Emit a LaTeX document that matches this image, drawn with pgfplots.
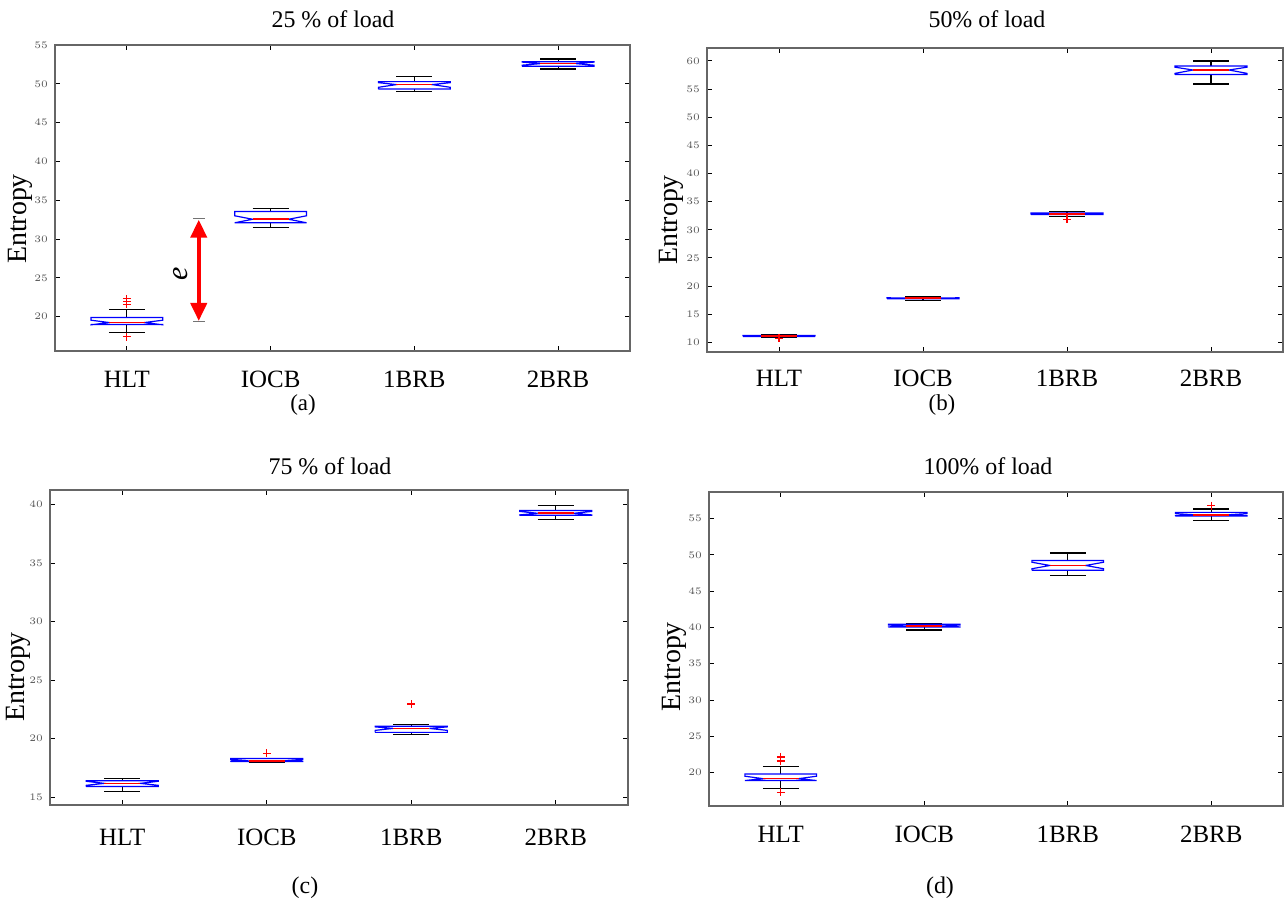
\documentclass[border=0pt]{standalone}
\usepackage{fontspec}
\setmainfont{Liberation Serif}
\newfontfamily\tickfont{Liberation Sans}
\usepackage{pgfplots}
\pgfplotsset{compat=1.18}
\usetikzlibrary{arrows.meta}

% notched MATLAB-style box: x, lower whisker, q1, notch low, median, notch high, q3, upper whisker
\newcommand{\nbox}[8]{%
  \pgfmathsetmacro\xl{#1-0.25}\pgfmathsetmacro\xr{#1+0.25}%
  \pgfmathsetmacro\xnl{#1-0.125}\pgfmathsetmacro\xnr{#1+0.125}%
  \edef\tmp{%
    \noexpand\addplot[whisk] coordinates {(#1,#7) (#1,#8)};
    \noexpand\addplot[whisk] coordinates {(#1,#3) (#1,#2)};
    \noexpand\addplot[whisk] coordinates {(\xnl,#8) (\xnr,#8)};
    \noexpand\addplot[whisk] coordinates {(\xnl,#2) (\xnr,#2)};
    \noexpand\addplot[boxln] coordinates {(\xl,#3) (\xl,#4) (\xnl,#5) (\xl,#6) (\xl,#7) (\xr,#7) (\xr,#6) (\xnr,#5) (\xr,#4) (\xr,#3) (\xl,#3)};
    \noexpand\addplot[medln] coordinates {(\xnl,#5) (\xnr,#5)};
  }\tmp}

\pgfplotsset{
  whisk/.style={black, line width=0.6bp, mark=none},
  boxln/.style={blue, line width=0.6bp, mark=none},
  medln/.style={red, line width=0.8bp, mark=none},
  outl/.style={only marks, mark=+, red, mark size=2bp, mark options={line width=0.6bp}},
  mat/.style={
    scale only axis, anchor=north west,
    xmin=0.5, xmax=4.5,
    xtick={1,2,3,4}, xticklabels={HLT,IOCB,1BRB,2BRB},
    tick align=inside, tick pos=both,
    major tick length=2.5bp,
    axis line style={black!60, line width=0.6bp},
    tick style={black, line width=0.5bp},
    yticklabel style={font=\tickfont\fontsize{5}{6}\selectfont, text=black!65},
    xticklabel style={font=\fontsize{12.5}{14}\selectfont, anchor=base},
    minor tick num=0,
    clip=false,
  },
}

\begin{document}
\begin{tikzpicture}
\useasboundingbox (0,0) rectangle (643bp,-454.5bp);

% (a)
\begin{axis}[mat, at={(27.5bp,-22.5bp)}, width=287.5bp, height=153bp,
  ymin=15.58, ymax=55, ytick={20,25,...,55},
  xticklabel style={yshift=-18bp}]
  \nbox{1}{18.0}{19.0}{18.95}{19.25}{19.55}{19.9}{20.9}
  \nbox{2}{31.5}{32.1}{32.1}{32.55}{33.0}{33.55}{33.9}
  \nbox{3}{49.0}{49.33}{49.55}{49.9}{50.15}{50.28}{50.9}
  \nbox{4}{51.9}{52.25}{52.4}{52.6}{52.8}{52.85}{53.2}
  \addplot[outl] coordinates {(1,22.3) (1,22.0) (1,21.6) (1,17.4)};
  \draw[black!55, line width=0.6bp] (axis cs:1.46,32.6) -- (axis cs:1.54,32.6);
  \draw[black!55, line width=0.6bp] (axis cs:1.46,19.35) -- (axis cs:1.54,19.35);
  \draw[red, line width=2bp, {Triangle[width=8bp,length=9bp]}-{Triangle[width=8bp,length=9bp]}]
    (axis cs:1.5,19.45) -- (axis cs:1.5,32.5);
  \node[rotate=90, font=\itshape\fontsize{15}{16}\selectfont] at (axis cs:1.375,25.55) {e};
\end{axis}

% (b)
\begin{axis}[mat, at={(353.5bp,-24bp)}, width=288bp, height=152bp,
  ymin=8.28, ymax=62.31, ytick={10,15,...,60},
  xticklabel style={yshift=-17bp}]
  \nbox{1}{10.95}{11.05}{11.05}{11.1}{11.15}{11.2}{11.45}
  \nbox{2}{17.5}{17.75}{17.78}{17.85}{17.92}{17.9}{18.2}
  \nbox{3}{32.3}{32.7}{32.75}{32.85}{32.95}{33.0}{33.3}
  \nbox{4}{55.9}{57.6}{57.8}{58.4}{58.9}{59.1}{60.0}
  \addplot[outl] coordinates {(1,10.7) (3,31.9)};
\end{axis}

% (c)
\begin{axis}[mat, at={(25bp,-245bp)}, width=289bp, height=157.5bp,
  ymin=14.32, ymax=41.25, ytick={15,20,...,40},
  xticklabel style={yshift=-20bp}]
  \nbox{1}{15.5}{15.9}{16.0}{16.17}{16.35}{16.4}{16.6}
  \nbox{2}{17.97}{18.03}{18.05}{18.1}{18.2}{18.3}{18.32}
  \nbox{3}{20.36}{20.53}{20.7}{20.87}{21.0}{21.05}{21.2}
  \nbox{4}{38.75}{39.09}{39.12}{39.26}{39.42}{39.49}{39.94}
  \addplot[outl] coordinates {(2,18.73) (3,22.95)};
\end{axis}

% (d)
\begin{axis}[mat, at={(354.5bp,-246bp)}, width=287bp, height=157bp,
  ymin=15.39, ymax=58.68, ytick={20,25,...,55},
  xticklabel style={yshift=-18bp}]
  \nbox{1}{17.83}{18.9}{18.9}{19.16}{19.5}{19.81}{20.82}
  \nbox{2}{39.65}{40.05}{40.08}{40.2}{40.35}{40.45}{40.58}
  \nbox{3}{47.17}{47.9}{48.1}{48.55}{49.0}{49.24}{50.26}
  \nbox{4}{54.77}{55.37}{55.4}{55.55}{55.7}{55.87}{56.34}
  \addplot[outl] coordinates {(1,22.16) (1,21.7) (1,21.6) (1,17.28) (4,56.8)};
\end{axis}

% titles, axis labels and panel captions
\begin{scope}[every node/.style={font=\fontsize{12}{14}\selectfont}]
  \node[anchor=base] at (166.5bp,-13.5bp) {25 \% of load};
  \node[anchor=base] at (493.5bp,-13.5bp) {50\% of load};
  \node[anchor=base] at (165bp,-237bp) {75 \% of load};
  \node[anchor=base] at (494bp,-237bp) {100\% of load};
  \node[anchor=base, font=\fontsize{11.5}{13}\selectfont] at (151.5bp,-205bp) {(a)};
  \node[anchor=base, font=\fontsize{11.5}{13}\selectfont] at (471bp,-205bp) {(b)};
  \node[anchor=base] at (152.5bp,-446.5bp) {(c)};
  \node[anchor=base] at (470bp,-446.5bp) {(d)};
\end{scope}
\begin{scope}[every node/.style={font=\fontsize{14}{16}\selectfont, rotate=90}]
  \node at (10.25bp,-109.5bp) {Entropy};
  \node at (335.5bp,-110bp) {Entropy};
  \node at (9.25bp,-338.5bp) {Entropy};
  \node at (337.3bp,-333.5bp) {Entropy};
\end{scope}
\end{tikzpicture}
\end{document}
